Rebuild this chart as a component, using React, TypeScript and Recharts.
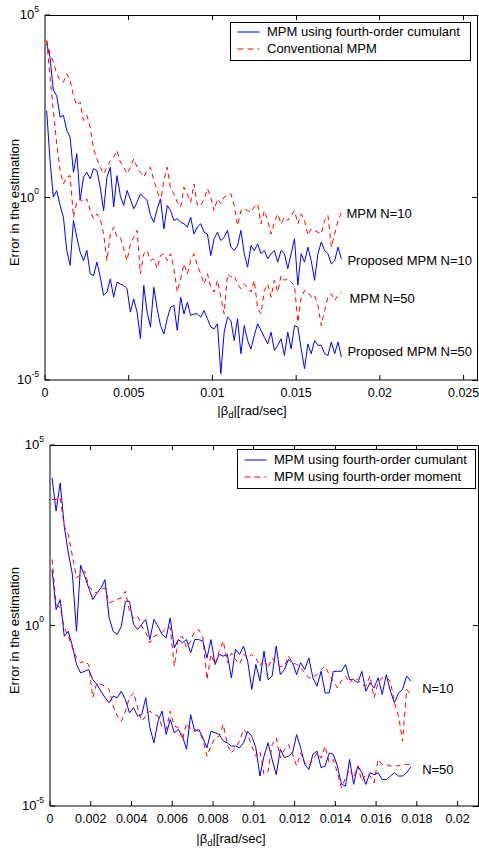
import React from 'react';
import { LineChart, Line, XAxis, YAxis, ReferenceDot, Legend, Label } from 'recharts';

const FONT = '"Liberation Sans", Arial, Helvetica, sans-serif';
const BLUE = '#0000ff';
const RED = '#ff0000';

// |beta_d| [rad/sec] sample points (shared by both panels)
const beta = [
  0.0001, 0.0003, 0.0005, 0.0007, 0.0009, 0.0011, 0.0013, 0.0015, 0.0017, 0.0019,
  0.0021, 0.0023, 0.0025, 0.0027, 0.0029, 0.0031, 0.0033, 0.0035, 0.0037, 0.0039,
  0.0041, 0.0043, 0.0045, 0.0047, 0.0049, 0.0051, 0.0053, 0.0055, 0.0057, 0.0059,
  0.0061, 0.0063, 0.0065, 0.0067, 0.0069, 0.0071, 0.0073, 0.0075, 0.0077, 0.0079,
  0.0081, 0.0083, 0.0085, 0.0087, 0.0089, 0.0091, 0.0093, 0.0095, 0.0097, 0.0099,
  0.0101, 0.0103, 0.0105, 0.0107, 0.0109, 0.0111, 0.0113, 0.0115, 0.0117, 0.0119,
  0.0121, 0.0123, 0.0125, 0.0127, 0.0129, 0.0131, 0.0133, 0.0135, 0.0137, 0.0139,
  0.0141, 0.0143, 0.0145, 0.0147, 0.0149, 0.0151, 0.0153, 0.0155, 0.0157, 0.0159,
  0.0161, 0.0163, 0.0165, 0.0167, 0.0169, 0.0171, 0.0173, 0.0175, 0.0177,
];

// Values are log10(error in the estimation)
// Top panel
const topProposedN10 = [
  4.21, 3.84, 2.93, 2.79, 2.2, 2.25, 1.84, 1.65, 0.69, 1.2,
  -0.08, 0.56, 0.69, 0.51, 0.79, 0.74, 0.28, -0.36, 0.56, 0.83,
  -0.26, 0.6, 0.05, -0.22, 0.19, -0.04, -0.31, -0.13, 0.1, 0.01,
  -0.08, -0.49, -0.68, -0.31, -0.04, -0.86, -0.22, -0.36, -0.63, -0.58,
  -0.68, -0.72, -0.81, -0.54, -1.0, -0.81, -0.72, -0.95, -1.0, -1.59,
  -1.13, -0.95, -1.18, -1.09, -0.9, -1.36, -1.45, -1.32, -0.9, -1.54,
  -1.91, -1.32, -1.45, -1.27, -1.54, -1.45, -1.68, -1.54, -1.45, -1.77,
  -1.45, -1.54, -1.95, -1.54, -1.13, -2.4, -1.54, -1.77, -1.36, -1.73,
  -2.27, -1.54, -1.22, -1.45, -1.54, -1.82, -1.73, -1.36, -1.68,
];
const topConventionalN10 = [
  4.3, 3.94, 3.71, 3.39, 3.21, 3.16, 3.39, 3.21, 2.79, 2.52,
  2.61, 2.11, 2.25, 1.93, 1.33, 1.06, 0.83, 0.65, 0.83, 1.01,
  1.1, 1.29, 0.97, 0.83, 0.65, 0.83, 1.06, 0.83, 0.69, 0.56,
  0.74, 0.83, 0.47, 0.19, -0.13, 0.47, 0.83, 0.24, 0.1, -0.13,
  -0.26, 0.28, 0.1, -0.13, 0.37, -0.22, -0.22, -0.04, 0.24, 0.01,
  -0.36, -0.04, -0.17, 0.01, 0.05, 0.1, -0.22, -0.77, -0.36, -0.31,
  -0.36, -0.4, -0.26, -0.17, -0.72, -0.36, -0.63, -1.0, -0.68, -0.45,
  -0.72, -0.54, -0.63, -0.49, -0.36, -0.72, -0.45, -0.63, -1.04, -0.86,
  -0.9, -0.95, -1.0, -0.63, -0.49, -1.36, -1.0, -0.63, -0.4,
];
const topProposedN50 = [
  2.38, 1.01, 0.01, 0.19, -0.22, -0.54, -1.45, -1.86, -0.63, -1.09,
  -1.5, -1.73, -1.45, -2.09, -2.14, -1.77, -2.18, -2.68, -2.59, -2.23,
  -2.73, -2.32, -2.37, -2.41, -2.5, -3.14, -2.78, -3.14, -3.87, -2.41,
  -3.14, -3.55, -2.46, -3.05, -3.51, -3.74, -3.32, -3.0, -2.96, -3.64,
  -2.73, -3.19, -2.87, -3.23, -3.19, -3.19, -3.28, -3.1, -3.32, -3.55,
  -3.6, -3.46, -4.83, -3.69, -3.28, -3.37, -3.92, -3.32, -4.28, -3.51,
  -3.92, -4.15, -3.78, -3.46, -3.64, -3.83, -4.01, -3.69, -4.19, -4.05,
  -3.87, -4.33, -3.69, -4.15, -3.51, -3.55, -4.15, -4.69, -4.01, -4.28,
  -3.92, -4.05, -4.05, -4.28, -4.33, -3.96, -4.28, -3.96, -4.37,
];
const topConventionalN50 = [
  4.3, 3.3, 2.38, 1.47, 0.74, 0.37, 0.56, 0.6, -0.54, -0.13,
  -0.04, -0.13, -0.04, -0.36, -0.58, -0.45, -0.58, -1.0, -1.73, -1.0,
  -0.81, -1.09, -1.09, -1.41, -1.73, -1.27, -1.09, -0.9, -2.09, -1.54,
  -1.45, -1.73, -1.68, -1.95, -1.59, -1.54, -1.73, -1.54, -1.95, -2.59,
  -2.23, -1.82, -2.09, -1.73, -1.54, -1.86, -2.09, -2.37, -2.09, -2.46,
  -2.59, -2.27, -2.73, -3.19, -2.09, -2.18, -2.14, -2.37, -2.5, -2.37,
  -2.46, -2.59, -2.27, -3.05, -3.19, -2.55, -2.37, -2.73, -2.27, -2.59,
  -2.14, -2.27, -2.23, -2.32, -2.41, -3.42, -2.73, -2.55, -2.59, -2.73,
  -2.68, -2.96, -3.51, -3.1, -2.73, -2.64, -2.82, -2.68, -2.59,
];

// Bottom panel
const bottomCumulantN10 = [
  4.09, 3.17, 3.95, 2.75, 2.01, 1.41, -0.16, 1.67, 1.37, 1.04,
  0.72, 0.9, 1.04, 1.27, 0.21, -0.16, -0.25, -0.02, 0.67, 0.67,
  0.03, -0.11, 0.03, 0.17, -0.39, 0.17, -0.02, -0.25, -0.34, 0.21,
  -0.62, -0.39, -0.48, -0.39, -0.76, -0.39, -0.39, -0.43, -0.9, -0.39,
  -1.08, -0.8, -0.85, -0.8, -1.45, -0.66, -0.8, -0.57, -0.99, -1.77,
  -1.08, -1.54, -0.71, -1.5, -1.4, -0.57, -1.36, -1.22, -0.94, -1.03,
  -1.36, -1.03, -1.22, -0.9, -1.45, -1.68, -1.27, -1.87, -1.87, -1.27,
  -1.27, -1.27, -1.08, -1.5, -1.5, -1.59, -1.27, -1.82, -1.59, -1.73,
  -1.45, -1.91, -1.36, -1.82, -2.14, -1.87, -1.77, -1.4, -1.54,
];
const bottomMomentN10 = [
  3.49, 3.49, 3.54, 2.75, 2.52, 1.92, 1.32, 1.41, 1.51, 1.09,
  0.95, 0.9, 1.0, 1.04, 0.63, 0.67, 0.72, 0.77, 0.95, 0.4,
  0.21, 0.26, -0.02, -0.2, -0.48, -0.3, -0.25, -0.2, -0.06, -0.06,
  -1.13, -0.34, -0.3, -0.62, -0.43, -0.16, -0.11, -0.34, -1.5, -0.8,
  -1.08, -0.71, -0.43, -1.03, -0.76, -0.94, -1.08, -0.8, -0.9, -0.8,
  -0.9, -1.13, -0.94, -1.17, -0.9, -1.03, -1.13, -1.13, -0.85, -1.03,
  -1.08, -1.17, -1.31, -1.45, -1.45, -1.36, -1.22, -1.13, -1.36, -1.54,
  -1.73, -1.54, -1.4, -1.59, -1.45, -1.5, -1.63, -1.68, -1.4, -2.0,
  -1.59, -1.45, -1.45, -1.54, -2.14, -2.51, -3.2, -1.77, -1.91,
];
const bottomCumulantN50 = [
  1.55, 0.44, 0.72, -0.3, -0.16, -0.57, -1.08, -1.31, -1.27, -1.22,
  -1.5, -1.63, -1.82, -2.0, -2.14, -1.96, -2.0, -1.82, -2.05, -2.42,
  -2.28, -2.51, -2.47, -2.0, -2.83, -3.25, -2.65, -2.37, -3.02, -2.6,
  -2.97, -2.88, -3.07, -3.43, -2.47, -2.93, -2.88, -3.11, -3.39, -2.93,
  -2.97, -3.02, -3.2, -3.25, -3.34, -3.34, -3.39, -3.25, -2.93, -3.07,
  -3.39, -4.17, -3.62, -3.25, -3.71, -4.13, -3.43, -3.66, -3.62, -3.53,
  -3.02, -3.39, -3.85, -3.99, -3.57, -3.48, -3.94, -3.89, -3.53, -3.57,
  -3.89, -4.4, -4.45, -3.71, -4.4, -3.89, -4.08, -4.4, -4.08, -4.13,
  -4.08, -4.27, -4.27, -4.17, -4.08, -4.17, -4.17, -4.08, -3.92,
];
const bottomMomentN50 = [
  1.83, 0.58, 0.49, -0.06, -0.3, -0.62, -0.9, -1.03, -0.99, -1.08,
  -2.0, -1.59, -1.63, -1.68, -1.77, -2.23, -2.51, -2.65, -2.37, -2.0,
  -1.86, -2.28, -2.65, -2.51, -2.37, -2.46, -2.51, -2.79, -2.88, -2.37,
  -2.79, -2.83, -3.16, -2.7, -2.88, -2.88, -2.93, -3.16, -3.62, -3.34,
  -3.11, -3.07, -2.74, -3.3, -3.53, -3.39, -3.2, -2.88, -3.02, -3.34,
  -3.62, -3.48, -4.13, -4.04, -3.3, -3.11, -3.67, -3.43, -3.3, -3.57,
  -3.89, -3.53, -3.8, -3.89, -3.71, -3.53, -3.67, -3.34, -3.8, -3.71,
  -4.08, -4.5, -4.22, -3.99, -4.22, -3.89, -4.31, -4.13, -4.17, -4.36,
  -3.71, -3.85, -3.85, -3.89, -3.89, -3.89, -3.85, -3.85, -3.85,
];

const topXTicks = [0, 0.005, 0.01, 0.015, 0.02, 0.025];
const bottomXTicks = [0, 0.002, 0.004, 0.006, 0.008, 0.01, 0.012, 0.014, 0.016, 0.018, 0.02];
const yTicks = [-5, 0, 5];

const topLegendLabels = ['MPM using fourth-order cumulant', 'Conventional MPM'];
const bottomLegendLabels = ['MPM using fourth-order cumulant', 'MPM using fourth-order moment'];

const topAnnotations = [
  { text: 'MPM N=10', x: 0.0180, y: -0.44 },
  { text: 'Proposed MPM N=10', x: 0.01806, y: -1.73 },
  { text: 'MPM N=50', x: 0.01818, y: -2.78 },
  { text: 'Proposed MPM N=50', x: 0.01806, y: -4.21 },
];
const bottomAnnotations = [
  { text: 'N=10', x: 0.01826, y: -1.74 },
  { text: 'N=50', x: 0.01826, y: -3.99 },
];

type Series = { key: string; values: number[]; color: string; dashed: boolean };

const topSeries: Series[] = [
  { key: 'propN10', values: topProposedN10, color: BLUE, dashed: false },
  { key: 'convN10', values: topConventionalN10, color: RED, dashed: true },
  { key: 'propN50', values: topProposedN50, color: BLUE, dashed: false },
  { key: 'convN50', values: topConventionalN50, color: RED, dashed: true },
];
const bottomSeries: Series[] = [
  { key: 'cumN10', values: bottomCumulantN10, color: BLUE, dashed: false },
  { key: 'momN10', values: bottomMomentN10, color: RED, dashed: true },
  { key: 'cumN50', values: bottomCumulantN50, color: BLUE, dashed: false },
  { key: 'momN50', values: bottomMomentN50, color: RED, dashed: true },
];

function buildRows(series: Series[]) {
  return beta.map((x, i) => {
    const row: Record<string, number> = { x };
    series.forEach((s) => {
      row[s.key] = s.values[i];
    });
    return row;
  });
}

const renderYTick = (props: any) => {
  const { x, y, payload } = props;
  return (
    <text x={x} y={y} textAnchor="end" fontFamily={FONT} fill="#000">
      <tspan fontSize={13} dy={4}>10</tspan>
      <tspan fontSize={8.5} dy={-7.5}>{String(payload.value)}</tspan>
    </text>
  );
};

const makeXTick = (dy: number) => (props: any) => {
  const { x, y, payload } = props;
  return (
    <text x={x} y={y + dy} textAnchor="middle" fontFamily={FONT} fontSize={12.5} fill="#000">
      {String(payload.value)}
    </text>
  );
};

type LegendSpec = {
  left: number;
  top: number;
  width: number;
  height: number;
  rows: number[];
  labels: string[];
};

function LegendBox({ spec }: { spec: LegendSpec }) {
  const kinds = [false, true];
  return (
    <div
      style={{
        position: 'relative',
        width: spec.width,
        height: spec.height,
        boxSizing: 'border-box',
        border: '1.5px solid #000',
        background: '#fff',
        fontFamily: FONT,
        fontSize: 13,
        color: '#000',
      }}
    >
      {spec.labels.map((lab, i) => (
        <div
          key={lab}
          style={{
            position: 'absolute',
            left: 0,
            top: spec.rows[i] - 8 - 1.5,
            height: 16,
            display: 'flex',
            alignItems: 'center',
            whiteSpace: 'nowrap',
          }}
        >
          <svg width={36} height={16} style={{ display: 'block' }}>
            <line
              x1={6.5}
              x2={28.5}
              y1={8}
              y2={8}
              stroke={kinds[i] ? RED : BLUE}
              strokeWidth={1}
              strokeDasharray={kinds[i] ? '6 4' : undefined}
            />
          </svg>
          <span style={{ lineHeight: '16px' }}>{lab}</span>
        </div>
      ))}
    </div>
  );
}

type PanelProps = {
  series: Series[];
  xDomain: [number, number];
  xTicks: number[];
  margin: { top: number; right: number; bottom: number; left: number };
  yAxisWidth: number;
  xAxisHeight: number;
  xTickDy: number;
  xLabelX: number;
  xLabelY: number;
  yLabelY: number;
  legend: LegendSpec;
  annotations: { text: string; x: number; y: number }[];
};

const W = 479;
const H = 425;

// Box frame (top and right borders with inward ticks) drawn with CSS borders
function Frame(p: PanelProps) {
  const left = p.margin.left + p.yAxisWidth;
  const top = p.margin.top;
  const right = W - p.margin.right;
  const bottom = H - p.margin.bottom - p.xAxisHeight;
  const [x0, x1] = p.xDomain;
  const sx = (v: number) => left + ((v - x0) / (x1 - x0)) * (right - left);
  const sy = (v: number) => top + ((5 - v) / 10) * (bottom - top);
  const base: React.CSSProperties = { position: 'absolute', background: '#000', pointerEvents: 'none' };
  return (
    <>
      <div style={{ ...base, left: left, top: top - 0.5, width: right - left + 0.5, height: 1 }} />
      <div style={{ ...base, left: right - 0.5, top: top - 0.5, width: 1, height: bottom - top + 1 }} />
      {p.xTicks
        .filter((t) => t > x0)
        .map((t) => (
          <div key={'t' + t} style={{ ...base, left: sx(t) - 0.5, top: top, width: 1, height: 5 }} />
        ))}
      {yTicks.map((t) => (
        <div key={'r' + t} style={{ ...base, left: right - 5, top: sy(t) - 0.5, width: 5, height: 1 }} />
      ))}
    </>
  );
}

function Panel(p: PanelProps) {
  const rows = buildRows(p.series);
  return (
    <div style={{ position: 'relative', width: W, height: H }}>
      <LineChart width={W} height={H} data={rows} margin={p.margin}>
        <XAxis
          type="number"
          dataKey="x"
          domain={p.xDomain}
          ticks={p.xTicks}
          interval={0}
          height={p.xAxisHeight}
          tickSize={-5}
          tickMargin={5}
          axisLine={{ stroke: '#000', strokeWidth: 1 }}
          tickLine={{ stroke: '#000', strokeWidth: 1 }}
          tick={makeXTick(p.xTickDy)}
        >
          <Label
            content={() => (
              <text x={p.xLabelX} y={p.xLabelY} textAnchor="middle" fontFamily={FONT} fontSize={13} fill="#000">
                |β<tspan fontSize={9.5} dy={3}>d</tspan>
                <tspan dy={-3}>|[rad/sec]</tspan>
              </text>
            )}
          />
        </XAxis>
        <YAxis
          type="number"
          domain={[-5, 5]}
          ticks={yTicks}
          interval={0}
          width={p.yAxisWidth}
          tickSize={-5}
          tickMargin={11}
          axisLine={{ stroke: '#000', strokeWidth: 1 }}
          tickLine={{ stroke: '#000', strokeWidth: 1 }}
          tick={renderYTick}
        >
          <Label
            content={() => (
              <text
                x={18.5}
                y={p.yLabelY}
                transform={`rotate(-90 18.5 ${p.yLabelY})`}
                textAnchor="middle"
                fontFamily={FONT}
                fontSize={13}
                fill="#000"
              >
                Error in the estimation
              </text>
            )}
          />
        </YAxis>
        {p.series.map((s) => (
          <Line
            key={s.key}
            type="linear"
            dataKey={s.key}
            stroke={s.color}
            strokeWidth={1}
            strokeDasharray={s.dashed ? '5 4' : undefined}
            dot={false}
            activeDot={false}
            isAnimationActive={false}
          />
        ))}
        {p.annotations.map((a) => (
          <ReferenceDot
            key={a.text}
            x={a.x}
            y={a.y}
            r={0}
            ifOverflow="visible"
            shape={(sp: any) => (
              <text x={sp.cx} y={sp.cy} dy={4.5} fontFamily={FONT} fontSize={13} fill="#000">
                {a.text}
              </text>
            )}
          />
        ))}
        <Legend
          layout="horizontal"
          verticalAlign="middle"
          align="center"
          width={p.legend.width}
          height={p.legend.height}
          wrapperStyle={{
            left: p.legend.left,
            top: p.legend.top,
            width: p.legend.width,
            height: p.legend.height,
          }}
          content={() => <LegendBox spec={p.legend} />}
        />
      </LineChart>
      <Frame {...p} />
    </div>
  );
}

export default function App() {
  return (
    <div style={{ position: 'absolute', left: 0, top: 0, width: W, height: 850, background: '#fff' }}>
      <div style={{ position: 'absolute', left: 0, top: 0 }}>
        <Panel
          series={topSeries}
          xDomain={[0, 0.0258]}
          xTicks={topXTicks}
          margin={{ top: 15, right: 2, bottom: 0, left: 5 }}
          yAxisWidth={40}
          xAxisHeight={45}
          xTickDy={17}
          xLabelX={252}
          xLabelY={414.5}
          yLabelY={202.5}
          legend={{ left: 230, top: 22, width: 241, height: 39, rows: [10, 27], labels: topLegendLabels }}
          annotations={topAnnotations}
        />
      </div>
      <div style={{ position: 'absolute', left: 0, top: 425 }}>
        <Panel
          series={bottomSeries}
          xDomain={[0, 0.021]}
          xTicks={bottomXTicks}
          margin={{ top: 20, right: 1, bottom: 0, left: 10 }}
          yAxisWidth={40}
          xAxisHeight={44}
          xTickDy={16.5}
          xLabelX={231}
          xLabelY={417.5}
          yLabelY={205.5}
          legend={{ left: 237, top: 24, width: 239, height: 40, rows: [11.7, 28], labels: bottomLegendLabels }}
          annotations={bottomAnnotations}
        />
      </div>
    </div>
  );
}
